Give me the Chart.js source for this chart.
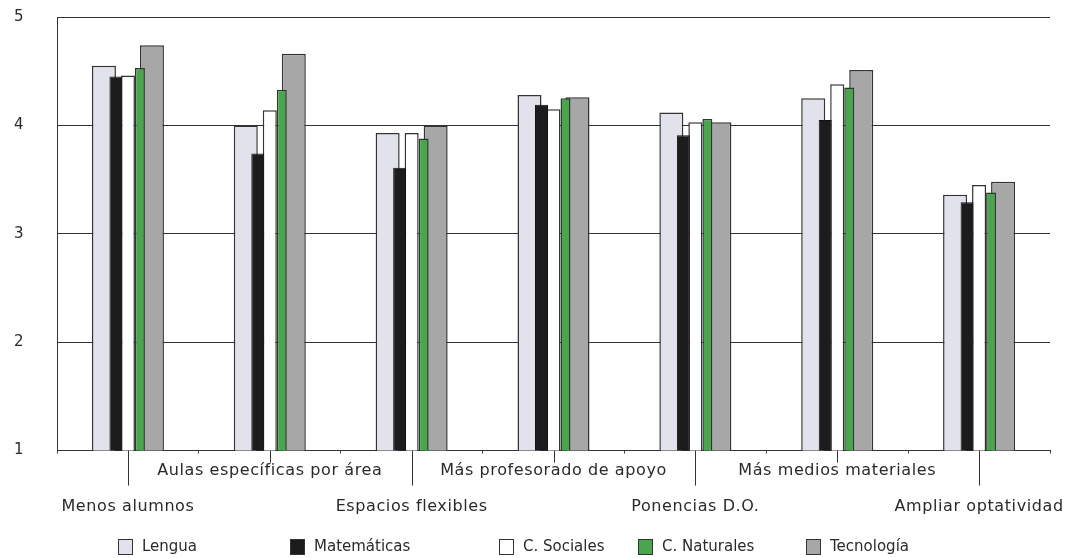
<!DOCTYPE html>
<html lang="es">
<head>
<meta charset="UTF-8">
<title>Propuestas de mejora por área</title>
<script src="https://cdn.jsdelivr.net/npm/chart.js"></script>
<style>
  html, body { margin: 0; padding: 0; background: #fff; }
  #wrap { width: 1090px; height: 558px; position: relative; }
</style>
</head>
<body>
<div id="wrap"><canvas id="chart"></canvas></div>
<script>
// categorias (eje X)
const categories = ['Menos alumnos', 'Aulas específicas por área', 'Espacios flexibles',
  'Más profesorado de apoyo', 'Ponencias D.O.', 'Más medios materiales', 'Ampliar optatividad'];

// valoraciones medias por área
const lengua      = [4.55, 4.00, 3.93, 4.28, 4.12, 4.25, 3.36];
const matematicas = [4.45, 3.74, 3.61, 4.19, 3.91, 4.05, 3.29];
const sociales    = [4.46, 4.14, 3.93, 4.15, 4.03, 4.38, 3.45];
const naturales   = [4.53, 4.33, 3.88, 4.25, 4.06, 4.35, 3.38];
const tecnologia  = [4.74, 4.66, 4.00, 4.26, 4.03, 4.51, 3.48];

const yTicks = [1, 2, 3, 4, 5];

const FONT = '"DejaVu Sans", sans-serif';
const INK = '#2a2a2a';

// orden de pintado (de abajo a arriba), independiente de la posicion en el grupo
const zOrder = [4, 0, 2, 1, 3];

const drawOrder = {
  id: 'drawOrder',
  beforeDraw(chart) {
    // la tipografia original es mas ancha
    chart.ctx.letterSpacing = '0.6px';
  },
  beforeDatasetsDraw(chart) {
    const ctx = chart.ctx, a = chart.chartArea;
    ctx.save();
    ctx.beginPath();
    ctx.rect(a.left, a.top - 5, a.right - a.left, a.bottom - a.top + 5);
    ctx.clip();
    zOrder.forEach(i => {
      const meta = chart.getDatasetMeta(i);
      if (meta.visible !== false) meta.controller.draw();
    });
    ctx.restore();
    return false;
  }
};

// lineas que unen cada grupo con su etiqueta
const labelLeaders = {
  id: 'labelLeaders',
  afterDraw(chart) {
    const xs = chart.scales.x, ctx = chart.ctx;
    ctx.save();
    ctx.strokeStyle = '#333';
    ctx.lineWidth = 1;
    categories.forEach((c, i) => {
      const px = Math.round(xs.getPixelForValue(i)) + 0.5;
      ctx.beginPath();
      ctx.moveTo(px, xs.top);
      ctx.lineTo(px, xs.top + (i % 2 === 0 ? 35 : 12));
      ctx.stroke();
    });
    ctx.restore();
  }
};

// leyenda dibujada a mano (espaciado irregular como en el original)
const boxLegend = {
  id: 'boxLegend',
  afterDraw(chart) {
    const ctx = chart.ctx;
    const lefts = [118, 290, 499, 638, 806];
    const cy = 547;
    ctx.save();
    ctx.letterSpacing = '0px';
    ctx.font = '15px ' + FONT;
    ctx.textBaseline = 'middle';
    chart.data.datasets.forEach((ds, i) => {
      const x = lefts[i];
      ctx.fillStyle = ds.backgroundColor;
      ctx.fillRect(x, cy - 8, 15, 16);
      ctx.strokeStyle = '#333';
      ctx.lineWidth = 1;
      ctx.strokeRect(x + 0.5, cy - 7.5, 14, 15);
      ctx.fillStyle = INK;
      ctx.fillText(ds.label, x + 24, cy);
    });
    ctx.restore();
  }
};

const slot = 0.423; // parte de la categoria que ocupa el grupo

new Chart(document.getElementById('chart'), {
  type: 'bar',
  data: {
    labels: categories,
    datasets: [
      { label: 'Lengua', data: lengua, backgroundColor: '#e2e2ec', borderColor: '#333',
        borderWidth: 1.5, barPercentage: 2.0, categoryPercentage: slot },
      { label: 'Matemáticas', data: matematicas, backgroundColor: '#1c1c1c', borderColor: '#111',
        borderWidth: 1, barPercentage: 1.08, categoryPercentage: slot },
      { label: 'C. Sociales', data: sociales, backgroundColor: '#ffffff', borderColor: '#333',
        borderWidth: 1.5, barPercentage: 1.17, categoryPercentage: slot },
      { label: 'C. Naturales', data: naturales, backgroundColor: '#4aa64e', borderColor: '#2c3a2c',
        borderWidth: 1.5, barPercentage: 0.83, categoryPercentage: slot },
      { label: 'Tecnología', data: tecnologia, backgroundColor: '#a7a7a7', borderColor: '#333',
        borderWidth: 1.5, barPercentage: 2.0, categoryPercentage: slot }
    ]
  },
  options: {
    responsive: true,
    maintainAspectRatio: false,
    animation: false,
    layout: { padding: { left: 14, right: 40, top: 0, bottom: 34 } },
    plugins: {
      legend: { display: false },
      tooltip: { enabled: false }
    },
    scales: {
      x: {
        grid: { display: true, drawOnChartArea: false, offset: true, tickLength: 3, color: '#444' },
        border: { display: true, color: '#333', width: 1 },
        ticks: {
          autoSkip: false,
          maxRotation: 0,
          minRotation: 0,
          padding: 0,
          color: INK,
          font: { family: FONT, size: 16, lineHeight: 2.2 },
          callback: (v, i) => i % 2 === 0 ? ['', categories[i]] : [categories[i]]
        }
      },
      y: {
        min: 1,
        max: 5,
        afterBuildTicks: (axis) => { axis.ticks = yTicks.map(v => ({ value: v })); },
        afterFit: (axis) => { axis.width = 43; },
        grid: { color: '#333', lineWidth: 1, drawTicks: false },
        border: { display: true, color: '#333', width: 1 },
        ticks: {
          padding: 8,
          crossAlign: 'far',
          color: INK,
          font: { family: FONT, size: 15 }
        }
      }
    }
  },
  plugins: [drawOrder, labelLeaders, boxLegend]
});
</script>
</body>
</html>
